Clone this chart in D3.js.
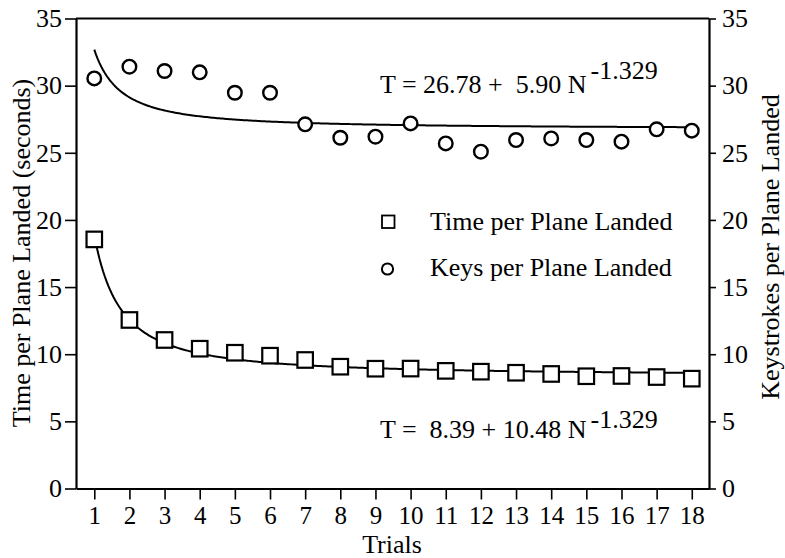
<!DOCTYPE html>
<html>
<head>
<meta charset="utf-8">
<script src="https://cdn.jsdelivr.net/npm/d3@7"></script>
<style>
  body { margin: 0; background: #fff; }
</style>
</head>
<body>
<svg id="chart" width="785" height="558" font-family="Liberation Serif, Times New Roman, serif"></svg>
<script>
// Trial numbers (x categories)
const trials = [1, 2, 3, 4, 5, 6, 7, 8, 9, 10, 11, 12, 13, 14, 15, 16, 17, 18];
// Mean time per plane landed, seconds (squares)
const timePerPlane = [18.55, 12.55, 11.06, 10.41, 10.11, 9.89, 9.57, 9.07, 8.92, 8.93, 8.76, 8.70, 8.62, 8.53, 8.36, 8.38, 8.30, 8.18];
// Mean keystrokes per plane landed (circles)
const keysPerPlane = [30.54, 31.41, 31.09, 30.99, 29.47, 29.47, 27.12, 26.12, 26.20, 27.19, 25.70, 25.08, 25.95, 26.07, 25.95, 25.83, 26.75, 26.65];
// Shared tick values for both vertical axes
const yTicks = [0, 5, 10, 15, 20, 25, 30, 35];
// Power-law fits T = a + b * N^c
const timeFit = { a: 8.39, b: 10.48, c: -1.329 };
const keysFit = { a: 26.78, b: 5.90, c: -1.329 };

const FONT = "Liberation Serif";
const svg = d3.select("#chart");
const plotL = 76, plotR = 709, plotT = 18.5, plotB = 488.5;

const x = d3.scaleLinear().domain([0.48, 18.49]).range([plotL, plotR]);
const y = d3.scaleLinear().domain([0, 35]).range([plotB, plotT]);

// Axes
const gL = svg.append("g").attr("transform", `translate(${plotL},0)`)
  .call(d3.axisLeft(y).tickValues(yTicks).tickSize(11).tickSizeOuter(0).tickPadding(3));
const gR = svg.append("g").attr("transform", `translate(${plotR},0)`)
  .call(d3.axisRight(y).tickValues(yTicks).tickSize(7).tickSizeOuter(0).tickPadding(6));
const gB = svg.append("g").attr("transform", `translate(0,${plotB})`)
  .call(d3.axisBottom(x).tickValues(trials).tickSize(11).tickSizeOuter(0).tickPadding(7));

[gL, gR, gB].forEach(g => {
  g.attr("font-family", FONT).attr("font-size", 26);
  g.select(".domain").attr("stroke", "#000").attr("stroke-width", 2.2);
  g.selectAll(".tick line").attr("stroke", "#000").attr("stroke-width", 1.6);
  g.selectAll(".tick text").attr("fill", "#000");
});
gB.attr("font-size", 25);

// Top frame line
svg.append("line").attr("x1", plotL).attr("x2", plotR).attr("y1", plotT).attr("y2", plotT)
  .attr("stroke", "#000").attr("stroke-width", 2.2);

// Fitted curves
function fitPoints(f) {
  const pts = [];
  const n0 = trials[0], n1 = trials[trials.length - 1];
  for (let i = 0; i <= 340; i++) {
    const n = n0 + (n1 - n0) * i / 340;
    pts.push([n, f.a + f.b * Math.pow(n, f.c)]);
  }
  return pts;
}
const line = d3.line().x(d => x(d[0])).y(d => y(d[1]));
[timeFit, keysFit].forEach(f => {
  svg.append("path").attr("d", line(fitPoints(f)))
    .attr("fill", "none").attr("stroke", "#000").attr("stroke-width", 2);
});

// Keystroke markers (circles)
svg.append("g").selectAll("circle").data(trials).join("circle")
  .attr("cx", d => x(d)).attr("cy", (d, i) => y(keysPerPlane[i])).attr("r", 6.8)
  .attr("fill", "#fff").attr("stroke", "#000").attr("stroke-width", 2.4);

// Time markers (squares)
const sq = 15.5;
svg.append("g").selectAll("rect").data(trials).join("rect")
  .attr("x", d => x(d) - sq / 2).attr("y", (d, i) => y(timePerPlane[i]) - sq / 2)
  .attr("width", sq).attr("height", sq)
  .attr("fill", "#fff").attr("stroke", "#000").attr("stroke-width", 2.2);

function label(xPos, yPos, str) {
  return svg.append("text").attr("x", xPos).attr("y", yPos)
    .attr("font-family", FONT).attr("font-size", 26).attr("fill", "#000")
    .style("white-space", "pre").text(str);
}

// Legend
svg.append("rect").attr("x", 382).attr("y", 215.5).attr("width", 12.5).attr("height", 12.5)
  .attr("fill", "#fff").attr("stroke", "#000").attr("stroke-width", 1.8);
label(430, 230, "Time per Plane Landed");
svg.append("circle").attr("cx", 387.5).attr("cy", 269).attr("r", 5.6)
  .attr("fill", "#fff").attr("stroke", "#000").attr("stroke-width", 2);
label(430, 276, "Keys per Plane Landed");

// Fit equations
function equation(xPos, yPos, main, exp, rise) {
  const t = label(xPos, yPos, "");
  t.append("tspan").text(main);
  t.append("tspan").attr("dx", 4).attr("dy", -rise).text(exp);
}
equation(380, 92.5, `T = ${keysFit.a.toFixed(2)} +  ${keysFit.b.toFixed(2)} N`, `${keysFit.c}`, 14);
equation(380, 438, `T =  ${timeFit.a.toFixed(2)} + ${timeFit.b.toFixed(2)} N`, `${timeFit.c}`, 10);

// Axis titles
label(0, 0, "Time per Plane Landed (seconds)").attr("text-anchor", "middle")
  .attr("transform", "translate(30,253) rotate(-90)");
label(0, 0, "Keystrokes per Plane Landed").attr("text-anchor", "middle")
  .attr("transform", "translate(779,247) rotate(-90)");
label(392, 553, "Trials").attr("text-anchor", "middle");
</script>
</body>
</html>
